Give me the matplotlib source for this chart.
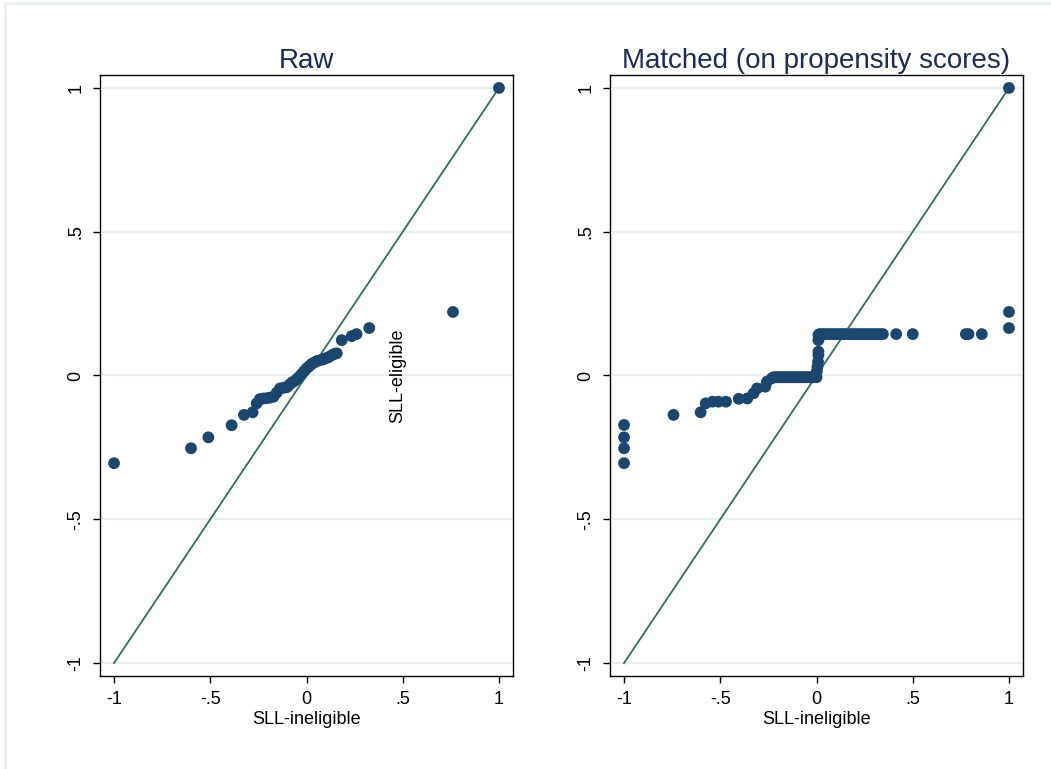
import numpy as np
import matplotlib
matplotlib.use('Agg')
import matplotlib.pyplot as plt
from matplotlib.lines import Line2D

plt.rcParams['font.family'] = ['Liberation Sans', 'DejaVu Sans']

# quantile pairs: (SLL-ineligible, SLL-eligible)
raw_x = [-1.0, -0.60, -0.51, -0.389, -0.325, -0.28, -0.259, -0.242, -0.225, -0.207,
         -0.19, -0.172, -0.155, -0.138, -0.12, -0.103, -0.09, -0.077, -0.064, -0.051,
         -0.038, -0.025, -0.012, 0.001, 0.014, 0.027, 0.04, 0.053, 0.07, 0.087,
         0.10, 0.113, 0.13, 0.145, 0.157, 0.183, 0.235, 0.26, 0.326, 0.761, 1.0]
raw_y = [-0.305, -0.253, -0.215, -0.173, -0.137, -0.128, -0.097, -0.082, -0.08, -0.079,
         -0.077, -0.074, -0.06, -0.045, -0.043, -0.041, -0.033, -0.025, -0.02, -0.013,
         -0.005, 0.005, 0.015, 0.025, 0.032, 0.04, 0.045, 0.05, 0.053, 0.056,
         0.06, 0.063, 0.07, 0.075, 0.077, 0.123, 0.137, 0.144, 0.165, 0.221, 1.0]

m_x = [-1.0, -1.0, -1.0, -1.0, -0.743, -0.602, -0.576, -0.54, -0.51, -0.47,
       -0.404, -0.36, -0.327, -0.309, -0.266, -0.257, -0.232,
       -0.223, -0.21, -0.20, -0.19, -0.18, -0.17, -0.16, -0.15, -0.14, -0.13,
       -0.12, -0.11, -0.10, -0.09, -0.08, -0.07, -0.06, -0.05, -0.04, -0.03,
       -0.02, -0.01, 0.0, 0.002, 0.005, 0.008, 0.01, 0.01, 0.01, 0.01,
       0.015, 0.03, 0.045, 0.06, 0.075, 0.09, 0.105, 0.12, 0.135, 0.15,
       0.165, 0.18, 0.195, 0.21, 0.225, 0.24, 0.255, 0.27, 0.285, 0.30,
       0.315, 0.33, 0.345, 0.414, 0.50, 0.776, 0.79, 0.859, 1.0, 1.0, 1.0]
m_y = [-0.172, -0.215, -0.253, -0.305, -0.137, -0.128, -0.097, -0.091, -0.091, -0.091,
       -0.081, -0.08, -0.062, -0.045, -0.039, -0.021, -0.01,
       -0.006, -0.006, -0.006, -0.006, -0.006, -0.006, -0.006, -0.006, -0.006, -0.006,
       -0.006, -0.006, -0.006, -0.006, -0.006, -0.006, -0.006, -0.006, -0.006, -0.006,
       -0.006, -0.006, -0.006, 0.015, 0.031, 0.048, 0.071, 0.083, 0.123, 0.141,
       0.144, 0.144, 0.144, 0.144, 0.144, 0.144, 0.144, 0.144, 0.144, 0.144,
       0.144, 0.144, 0.144, 0.144, 0.144, 0.144, 0.144, 0.144, 0.144, 0.144,
       0.144, 0.144, 0.144, 0.144, 0.144, 0.144, 0.144, 0.144, 0.165, 0.221, 1.0]

titles = ['Raw', 'Matched (on propensity scores)']
ticks = [-1, -0.5, 0, 0.5, 1]
tick_labels = ['-1', '-.5', '0', '.5', '1']

navy = '#1a476f'
teal = '#2e6f5e'
grid_c = '#e6eef2'

fig = plt.figure(figsize=(10.51, 7.69), dpi=100)
# faint outer frame, only top and left visible in the original
fig.lines.append(Line2D([5 / 1051, 1], [1 - 3 / 769, 1 - 3 / 769],
                        transform=fig.transFigure, color='#e8eff2', linewidth=2))
fig.lines.append(Line2D([5 / 1051, 5 / 1051], [0, 1 - 3 / 769],
                        transform=fig.transFigure, color='#e8eff2', linewidth=2))

lefts = [100 / 1051, 610 / 1051]
w = 413 / 1051
b = 1 - 676 / 769
h = 601 / 769
data = [(raw_x, raw_y), (m_x, m_y)]

for i in range(2):
    ax = fig.add_axes([lefts[i], b, w, h])
    xs, ys = data[i]
    for t in ticks:
        ax.axhline(t, color=grid_c, linewidth=1.6, zorder=0)
    ax.plot([-1, 1], [-1, 1], color=teal, linewidth=1.3, zorder=2)
    ax.scatter(xs, ys, s=72, color=navy, edgecolors='none', zorder=3)
    ax.set_xlim(-1.073, 1.073)
    ax.set_ylim(-1.045, 1.045)
    ax.set_xticks(ticks)
    ax.set_xticklabels(tick_labels, fontsize=13)
    ax.set_yticks(ticks)
    ax.set_yticklabels(tick_labels, fontsize=13, rotation=90, va='center')
    ax.tick_params(length=5, width=1, pad=6)
    for sp in ax.spines.values():
        sp.set_linewidth(1.0)
        sp.set_color('black')
    ax.set_xlabel('SLL-ineligible', fontsize=13, labelpad=2)
    ax.set_title(titles[i], fontsize=20, color='#1c2b5a', pad=5)
    if i == 0:
        ax.text(0.475, 0.0, 'SLL-eligible', rotation=90, fontsize=13,
                ha='center', va='center')

fig.savefig('out.png', dpi=100)
